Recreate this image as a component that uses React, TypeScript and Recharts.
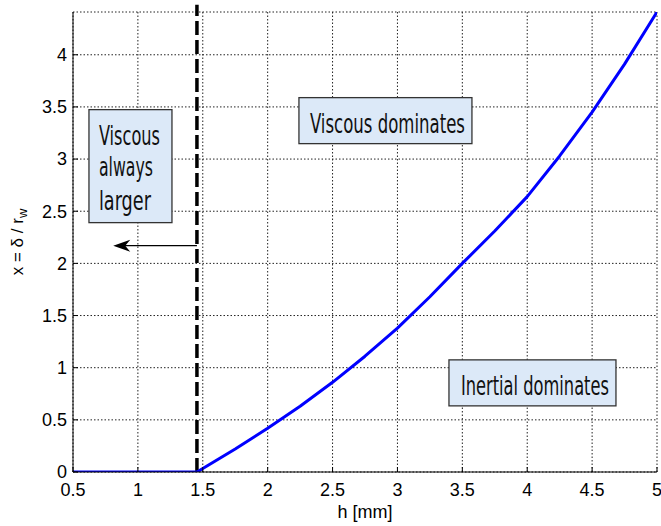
import React from 'react';
import { LineChart, Line, XAxis, YAxis, CartesianGrid, ReferenceLine, ReferenceDot } from 'recharts';

// h [mm] and x = delta / r_w along the boundary curve
const hValues = [0.5, 1, 1.455, 1.75, 2, 2.25, 2.5, 2.75, 3, 3.25, 3.5, 3.75, 4, 4.25, 4.5, 4.75, 5];
const xValues = [0, 0, 0, 0.22, 0.42, 0.63, 0.86, 1.11, 1.38, 1.68, 2.0, 2.31, 2.64, 3.03, 3.45, 3.91, 4.41];

const xTicks = [0.5, 1, 1.5, 2, 2.5, 3, 3.5, 4, 4.5, 5];
const yTicks = [0, 0.5, 1, 1.5, 2, 2.5, 3, 3.5, 4];

// cut-off thickness (dashed line) and arrow
const cutoffH = 1.455;
const cutoffTop = 4.48;
const arrowEndH = 0.81;
const arrowLevel = 2.17;

// text boxes: anchored at their top-left corner in data units
const boxLines = [['Viscous', 'always', 'larger'], ['Viscous dominates'], ['Inertial dominates']];
const boxAnchorH = [0.623, 2.241, 3.397];
const boxAnchorX = [3.474, 3.589, 1.075];

const data = hValues.map((h, i) => ({ h, x: xValues[i] }));

const boxStyles = [
  { w: 83, h: 113, pad: 10, base: [35, 66, 100], len: [61, 54, 52] },
  { w: 173, h: 46, pad: 11, base: [35], len: [155] },
  { w: 167, h: 46, pad: 12, base: [35], len: [148] },
];

const tickFont = { fontFamily: '"Liberation Sans", Arial, sans-serif', fontSize: 18, fill: '#000' };
const boxFont = '"DejaVu Sans Condensed", "Liberation Sans Narrow", sans-serif';
const SQUEEZE = 0.62;

const LEFT_MARGIN = 6;
const BOTTOM_MARGIN = 11;

const LeftTick = (props: any) => {
  const { x, y, payload } = props;
  const ax = x + LEFT_MARGIN;
  return (
    <g>
      <line x1={ax} y1={y} x2={ax + 5} y2={y} stroke="#000" />
      <text x={x} y={y} dy="0.35em" textAnchor="end" {...tickFont}>{payload.value}</text>
    </g>
  );
};

const BottomTick = (props: any) => {
  const { x, y, payload } = props;
  const ay = y - BOTTOM_MARGIN;
  return (
    <g>
      <line x1={x} y1={ay} x2={x} y2={ay - 5} stroke="#000" />
      <text x={x} y={y + 13} textAnchor="middle" {...tickFont}>{payload.value}</text>
    </g>
  );
};

const RightTick = (props: any) => {
  const { x, y } = props;
  return <line x1={x} y1={y} x2={x - 5} y2={y} stroke="#000" />;
};

const TopTick = (props: any) => {
  const { x, y } = props;
  return <line x1={x} y1={y} x2={x} y2={y + 5} stroke="#000" />;
};

const YLabel = (props: any) => {
  const vb = props.viewBox || {};
  const cx = vb.x + 4;
  const cy = vb.y + vb.height / 2;
  return (
    <text x={cx} y={cy} transform={`rotate(-90, ${cx}, ${cy})`} textAnchor="middle" dominantBaseline="central"
      fontFamily='"Liberation Sans", Arial, sans-serif' fontSize={17} fill="#000">
      x = δ / r<tspan dy={5} fontSize={13}>w</tspan>
    </text>
  );
};

const XLabel = (props: any) => {
  const vb = props.viewBox || {};
  return (
    <text x={vb.x + vb.width / 2} y={vb.y + 46} textAnchor="middle"
      fontFamily='"Liberation Sans", Arial, sans-serif' fontSize={18} fill="#000">
      h [mm]
    </text>
  );
};

const Arrow = (props: any) => {
  const { x1, y1, x2, y2 } = props;
  const left = Math.min(x1, x2);
  const right = Math.max(x1, x2);
  return (
    <g>
      <line x1={right} y1={y1} x2={left + 10} y2={y2} stroke="#000" strokeWidth={1.2} />
      <polygon points={`${left},${y1} ${left + 17},${y1 - 6} ${left + 12},${y1} ${left + 17},${y1 + 6}`} fill="#000" />
    </g>
  );
};

const makeBox = (idx: number) => (props: any) => {
  const { cx, cy } = props;
  const s = boxStyles[idx];
  return (
    <g>
      <rect x={cx} y={cy} width={s.w} height={s.h} fill="#dce9f8" stroke="#333" strokeWidth={1.3} />
      {boxLines[idx].map((t, i) => (
        <g key={i} transform={`translate(${cx + s.pad}, ${cy + s.base[i]}) scale(${SQUEEZE}, 1)`}>
          <text x={0} y={0} fontFamily={boxFont} fontSize={27} fill="#111"
            textLength={s.len[i] / SQUEEZE} lengthAdjust="spacingAndGlyphs">
            {t}
          </text>
        </g>
      ))}
    </g>
  );
};

export default function App() {
  return (
    <div style={{ position: 'absolute', left: 0, top: 0, background: '#fff' }}>
      <LineChart width={661} height={526} data={data} margin={{ top: 12, right: 4, bottom: 14, left: 13 }}>
        <CartesianGrid stroke="#222" strokeDasharray="1.5 2" />
        <XAxis dataKey="h" type="number" domain={[0.5, 5]} ticks={xTicks} interval={0} height={40}
          allowDataOverflow stroke="#000" tickLine={false} tickSize={0} tickMargin={BOTTOM_MARGIN}
          tick={<BottomTick />} label={<XLabel />} />
        <XAxis xAxisId="top" orientation="top" type="number" domain={[0.5, 5]} ticks={xTicks} interval={0}
          height={0} allowDataOverflow stroke="#000" tickLine={false} tickSize={0} tickMargin={0} tick={<TopTick />} />
        <YAxis type="number" domain={[0, 4.41]} ticks={yTicks} interval={0} width={60} allowDataOverflow
          stroke="#000" tickLine={false} tickSize={0} tickMargin={LEFT_MARGIN} tick={<LeftTick />} label={<YLabel />} />
        <YAxis yAxisId="right" orientation="right" type="number" domain={[0, 4.41]} ticks={yTicks} interval={0}
          width={0} allowDataOverflow stroke="#000" tickLine={false} tickSize={0} tickMargin={0} tick={<RightTick />} />
        <ReferenceLine segment={[{ x: cutoffH, y: 0 }, { x: cutoffH, y: cutoffTop }]} ifOverflow="visible"
          stroke="#000" strokeWidth={3.5} strokeDasharray="14 5" />
        <ReferenceLine segment={[{ x: cutoffH, y: arrowLevel }, { x: arrowEndH, y: arrowLevel }]} shape={<Arrow />} />
        <Line type="linear" dataKey="x" stroke="#0000ff" strokeWidth={3} strokeLinejoin="round" dot={false} isAnimationActive={false} />
        {boxLines.map((_, i) => (
          <ReferenceDot key={i} x={boxAnchorH[i]} y={boxAnchorX[i]} r={1} ifOverflow="visible" shape={makeBox(i)} />
        ))}
      </LineChart>
    </div>
  );
}
